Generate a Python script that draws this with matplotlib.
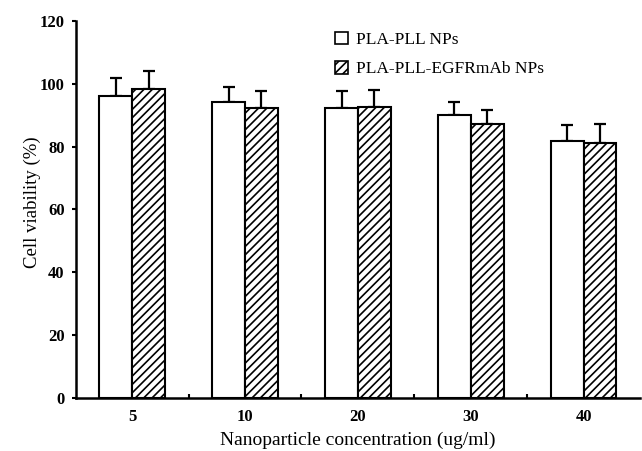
import matplotlib
matplotlib.use("Agg")
import matplotlib.pyplot as plt
import numpy as np

categories = ["5", "10", "20", "30", "40"]
pla_pll = [96.0, 94.3, 92.2, 90.0, 81.9]
pla_pll_err = [6.0, 4.8, 5.4, 4.1, 4.9]
pla_egfr = [98.5, 92.2, 92.6, 87.3, 81.2]
pla_egfr_err = [5.5, 5.5, 5.4, 4.3, 6.1]
series_labels = ["PLA-PLL NPs", "PLA-PLL-EGFRmAb NPs"]
yticks = [0, 20, 40, 60, 80, 100, 120]

plt.rcParams['font.family'] = ['Liberation Serif', 'DejaVu Serif']
plt.rcParams['hatch.linewidth'] = 1.2

fig = plt.figure(figsize=(6.42, 4.51), dpi=100)
ax = fig.add_axes([0.118, 0.1175, 0.879, 0.836])

x = np.arange(len(categories))
w = 0.29
lw = 1.5
b1 = ax.bar(x - w/2, pla_pll, w, color='white', edgecolor='black', linewidth=lw,
            label=series_labels[0], zorder=2)
b2 = ax.bar(x + w/2, pla_egfr, w, color='white', edgecolor='black', linewidth=lw,
            hatch='////', label=series_labels[1], zorder=2)
ax.errorbar(x - w/2, pla_pll, yerr=[np.zeros(len(x)), pla_pll_err], fmt='none',
            ecolor='black', elinewidth=1.6, capsize=4, capthick=1.6, zorder=1)
ax.errorbar(x + w/2, pla_egfr, yerr=[np.zeros(len(x)), pla_egfr_err], fmt='none',
            ecolor='black', elinewidth=1.6, capsize=4, capthick=1.6, zorder=1)

ax.set_xlim(-0.5, 4.5)
ax.set_ylim(0, 120)
ax.set_yticks(yticks)
ax.set_yticklabels([str(t) for t in yticks], fontsize=12, fontweight='bold')
ax.set_xticks(x)
ax.set_xticklabels(categories, fontsize=12, fontweight='bold')
ax.set_xticks(np.arange(0.5, len(categories) - 0.5, 1.0), minor=True)
ax.tick_params(axis='x', which='major', length=0, pad=8)
ax.tick_params(axis='x', which='minor', direction='in', length=3, width=1.5)
ax.tick_params(axis='y', direction='out', length=3, width=1.5, pad=5)

for s in ['top', 'right']:
    ax.spines[s].set_visible(False)
for s in ['left', 'bottom']:
    ax.spines[s].set_linewidth(1.8)

ax.set_ylabel("Cell viability (%)", fontsize=13.5, labelpad=0)
ax.yaxis.set_label_coords(-0.061, 0.52)
ax.set_xlabel("Nanoparticle concentration (ug/ml)", fontsize=14, labelpad=5)

leg = ax.legend(loc='upper left', bbox_to_anchor=(0.459, 0.972), frameon=False,
                fontsize=12.5, handlelength=0.75, handleheight=0.75, handletextpad=0.45,
                labelspacing=0.75, borderpad=0, borderaxespad=0)
for h in leg.legend_handles:
    h.set_linewidth(1.2)

fig.savefig("out.png", dpi=100)
